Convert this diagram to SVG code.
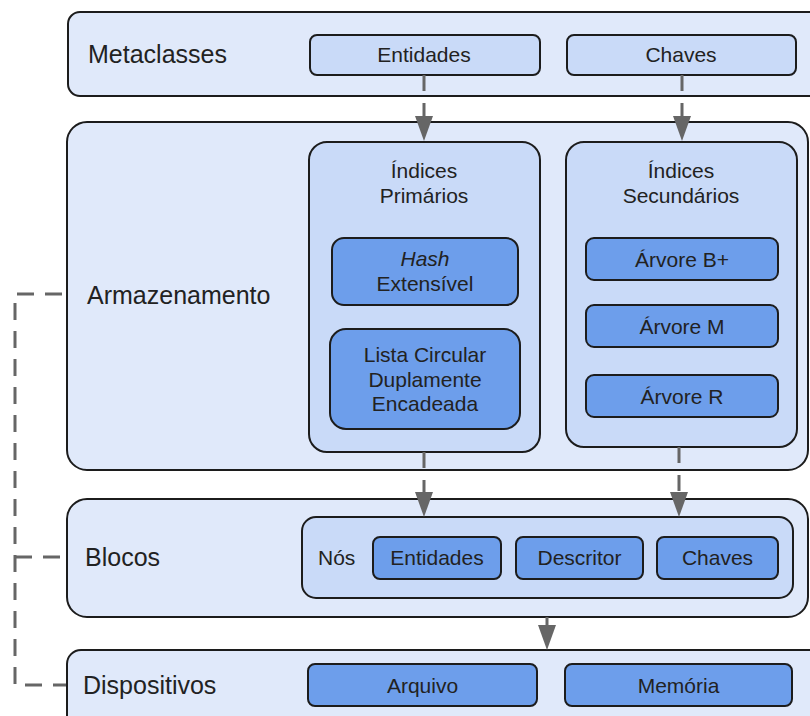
<svg xmlns="http://www.w3.org/2000/svg" width="810" height="716" viewBox="0 0 810 716">
  <style>
    text { font-family: "Liberation Sans", Arial, sans-serif; fill: #222; }
    .layer { fill: #e0e9fa; stroke: #1c1c1c; stroke-width: 2; }
    .group { fill: #c9daf8; stroke: #1c1c1c; stroke-width: 2; }
    .item { fill: #6d9eeb; stroke: #1c1c1c; stroke-width: 2; }
    .meta { fill: #c9daf8; stroke: #1c1c1c; stroke-width: 2; }
    .lbl { font-size: 25px; }
    .txt { font-size: 21px; text-anchor: middle; }
    .link { fill: none; stroke: #666; stroke-width: 3; }
    .dash { stroke-dasharray: 16 12; }
  </style>
  <defs>
    <marker id="head" markerUnits="userSpaceOnUse" markerWidth="25" markerHeight="18" viewBox="0 0 25 18" refX="0" refY="9" orient="auto">
      <path d="M0,0 L25,9 L0,18 z" fill="#666"/>
    </marker>
  </defs>

  <rect width="810" height="716" fill="#fff"/>

  <!-- Metaclasses layer -->
  <g id="metaclasses">
    <rect class="layer" x="68" y="12" width="770" height="84" rx="12"/>
    <text class="lbl" x="88" y="63">Metaclasses</text>
  </g>
  <g id="meta-entidades">
    <rect class="meta" x="310" y="35" width="230" height="40" rx="7"/>
    <text class="txt" x="424" y="62">Entidades</text>
  </g>
  <g id="meta-chaves">
    <rect class="meta" x="567" y="35" width="229" height="40" rx="7"/>
    <text class="txt" x="681" y="62">Chaves</text>
  </g>

  <!-- Armazenamento layer -->
  <g id="armazenamento">
    <rect class="layer" x="67" y="122" width="741" height="348" rx="20"/>
    <text class="lbl" x="87" y="304">Armazenamento</text>
  </g>
  <g id="indices-primarios">
    <rect class="group" x="309" y="142" width="231" height="310" rx="18"/>
    <text class="txt" x="424" y="178">Índices</text>
    <text class="txt" x="424" y="203">Primários</text>
  </g>
  <g id="hash">
    <rect class="item" x="332" y="238" width="186" height="67" rx="12"/>
    <text class="txt" x="425" y="266" font-style="italic">Hash</text>
    <text class="txt" x="425" y="291">Extensível</text>
  </g>
  <g id="lista">
    <rect class="item" x="330" y="329" width="190" height="100" rx="16"/>
    <text class="txt" x="425" y="362">Lista Circular</text>
    <text class="txt" x="425" y="387">Duplamente</text>
    <text class="txt" x="425" y="411">Encadeada</text>
  </g>
  <g id="indices-secundarios">
    <rect class="group" x="566" y="142" width="231" height="305" rx="18"/>
    <text class="txt" x="681" y="178">Índices</text>
    <text class="txt" x="681" y="203">Secundários</text>
  </g>
  <g id="arvore-bplus">
    <rect class="item" x="586" y="238" width="192" height="42" rx="8"/>
    <text class="txt" x="682" y="267">Árvore B+</text>
  </g>
  <g id="arvore-m">
    <rect class="item" x="586" y="305" width="192" height="42" rx="8"/>
    <text class="txt" x="682" y="334">Árvore M</text>
  </g>
  <g id="arvore-r">
    <rect class="item" x="586" y="375" width="192" height="42" rx="8"/>
    <text class="txt" x="682" y="404">Árvore R</text>
  </g>

  <!-- Blocos layer -->
  <g id="blocos">
    <rect class="layer" x="67" y="499" width="741" height="118" rx="20"/>
    <text class="lbl" x="85" y="566">Blocos</text>
  </g>
  <g id="nos">
    <rect class="group" x="302" y="517" width="491" height="81" rx="14"/>
    <text x="318" y="565" font-size="21">Nós</text>
  </g>
  <g id="no-entidades">
    <rect class="item" x="373" y="537" width="128" height="42" rx="7"/>
    <text class="txt" x="437" y="565">Entidades</text>
  </g>
  <g id="no-descritor">
    <rect class="item" x="516" y="537" width="127" height="42" rx="7"/>
    <text class="txt" x="579.5" y="565">Descritor</text>
  </g>
  <g id="no-chaves">
    <rect class="item" x="657" y="537" width="121" height="42" rx="7"/>
    <text class="txt" x="717.5" y="565">Chaves</text>
  </g>

  <!-- Dispositivos layer -->
  <g id="dispositivos">
    <rect class="layer" x="67" y="650" width="770" height="90" rx="14"/>
    <text class="lbl" x="83" y="694">Dispositivos</text>
  </g>
  <g id="arquivo">
    <rect class="item" x="308" y="664" width="229" height="42" rx="7"/>
    <text class="txt" x="422.5" y="693">Arquivo</text>
  </g>
  <g id="memoria">
    <rect class="item" x="565" y="664" width="227" height="42" rx="7"/>
    <text class="txt" x="678.5" y="693">Memória</text>
  </g>

  <!-- Connectors -->
  <g id="connectors">
    <path class="link dash" d="M424,75 V116" marker-end="url(#head)"/>
    <path class="link dash" d="M682,75 V116" marker-end="url(#head)"/>
    <path class="link dash" d="M424,452 V492" marker-end="url(#head)"/>
    <path class="link dash" d="M679,447 V492" marker-end="url(#head)"/>
    <path class="link" d="M547,617 V625" marker-end="url(#head)"/>
    <path class="link" d="M62,294 H15 V685 H66" stroke-dasharray="17 11"/>
    <path class="link" d="M15,557 H66" stroke-dasharray="17 11"/>
  </g>
</svg>
